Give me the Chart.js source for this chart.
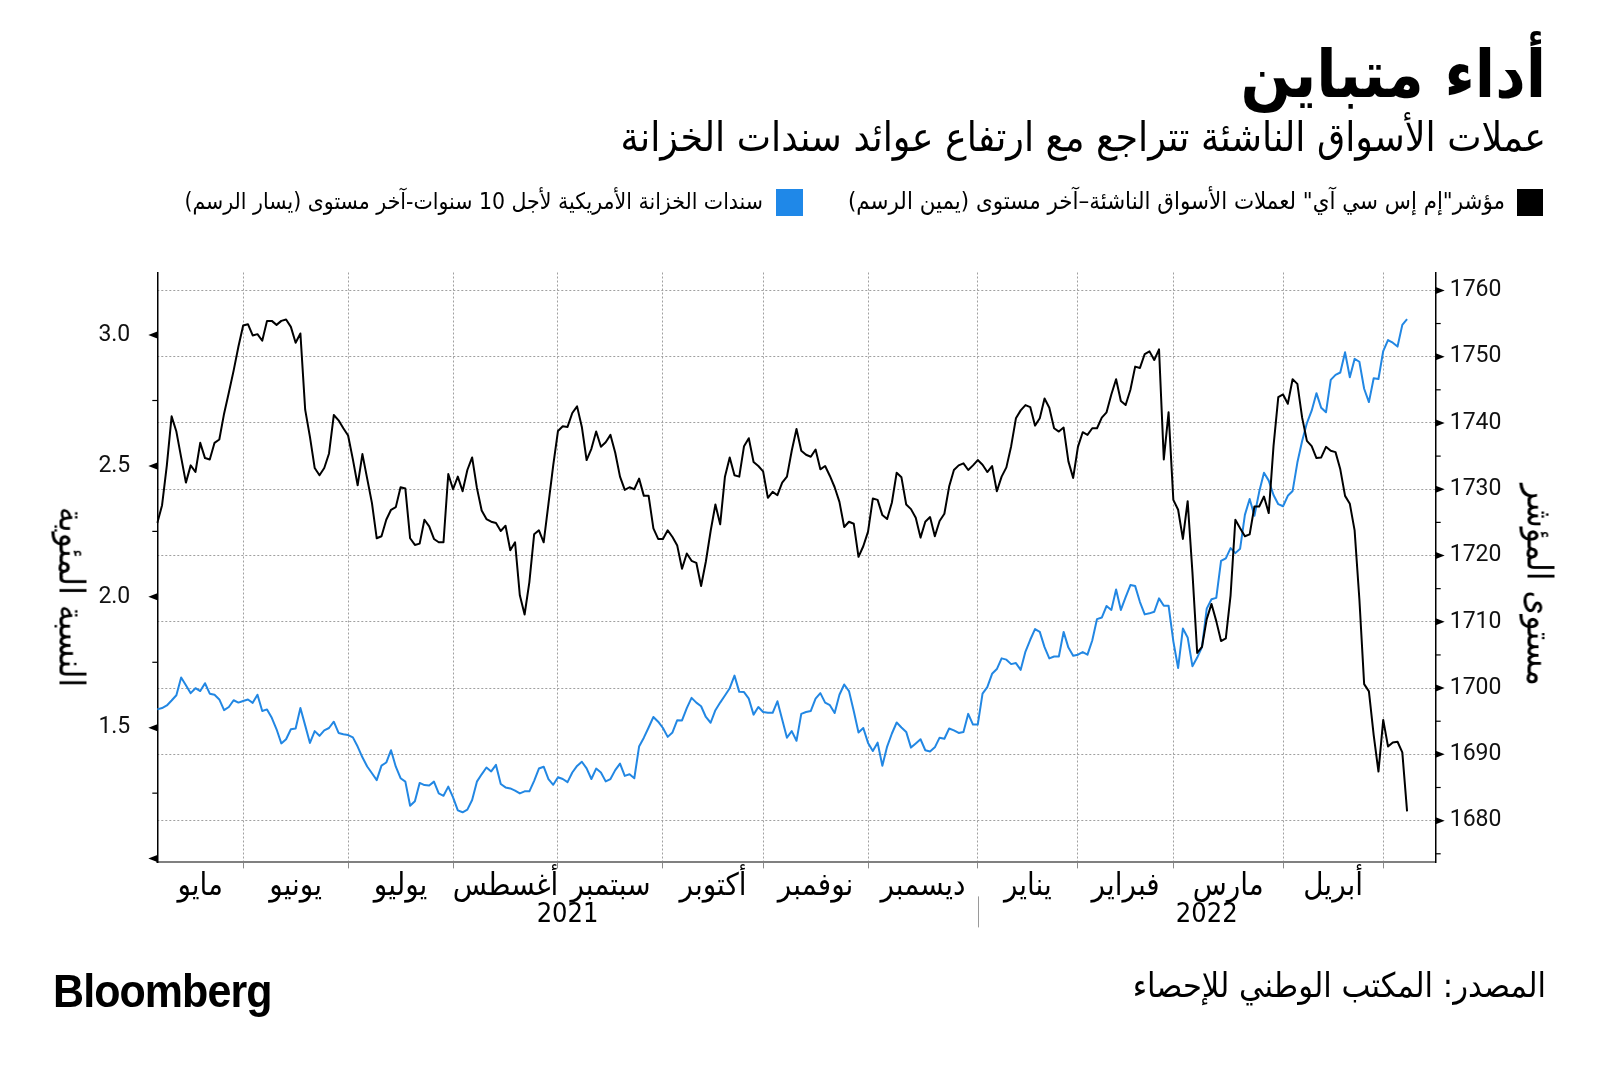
<!DOCTYPE html>
<html lang="ar"><head><meta charset="utf-8">
<script src="https://cdn.jsdelivr.net/npm/chart.js@4.4.1/dist/chart.umd.min.js"></script>
<style>
html,body{margin:0;padding:0;background:#fff;width:1600px;height:1072px;overflow:hidden;}
#wrap{position:relative;width:1600px;height:1072px;}
canvas{position:absolute;left:0;top:0;}
.t{position:absolute;white-space:nowrap;direction:rtl;line-height:1;font-family:"DejaVu Sans Condensed","DejaVu Sans",sans-serif;color:#000;}
.sq{position:absolute;}
</style></head>
<body><div id="wrap">
<canvas id="c" width="1600" height="1072"></canvas>
<div class="t" id="title" style="right:54px;top:42px;font-size:66px;font-weight:bold;">أداء متباين</div>
<div class="t" id="sub" style="right:54px;top:117px;font-size:40.5px;">عملات الأسواق الناشئة تتراجع مع ارتفاع عوائد سندات الخزانة</div>
<div class="sq" style="left:1517px;top:189px;width:26px;height:27px;background:#000;"></div>
<div class="t" id="leg1" style="right:95px;top:190px;font-size:23.8px;">مؤشر"إم إس سي آي" لعملات الأسواق الناشئة–آخر مستوى (يمين الرسم)</div>
<div class="sq" style="left:776px;top:189px;width:27px;height:27px;background:#1f88e8;"></div>
<div class="t" id="leg2" style="right:837px;top:190px;font-size:22.8px;">سندات الخزانة الأمريكية لأجل 10 سنوات-آخر مستوى (يسار الرسم)</div>
<div class="t" id="ylt" style="left:71px;top:597px;font-size:35px;transform:translate(-50%,-50%) rotate(90deg);">النسبة المئوية</div>
<div class="t" id="yrt" style="left:1539px;top:585px;font-size:35px;transform:translate(-50%,-50%) rotate(90deg);">مستوى المؤشر</div>
<div class="t" id="src" style="right:54px;top:968px;font-size:34px;">المصدر: المكتب الوطني للإحصاء</div>
<div style="position:absolute;left:53px;top:968px;font-family:'Liberation Sans',Arial,sans-serif;font-weight:bold;font-size:46px;line-height:1;letter-spacing:-1px;transform:scaleX(0.935);transform-origin:left center;color:#000;">Bloomberg</div>
</div>
<script>
// ---------- DATA ----------
// Business days from 6 May 2021 to 17 May 2022 (axis runs a few days past the last value)
const dates = [];
(function(){
  const d = new Date(Date.UTC(2021,4,6)), end = new Date(Date.UTC(2022,4,17));
  while (d <= end) { const w = d.getUTCDay(); if (w !== 0 && w !== 6) dates.push(d.toISOString().slice(0,10)); d.setUTCDate(d.getUTCDate()+1); }
})();

const monthNames = ['مايو','يونيو','يوليو','أغسطس','سبتمبر','أكتوبر','نوفمبر','ديسمبر','يناير','فبراير','مارس','أبريل'];
const yearNames = ['2021','2022'];

const legendEM = 'مؤشر"إم إس سي آي" لعملات الأسواق الناشئة–آخر مستوى (يمين الرسم)';
const legendUST = 'سندات الخزانة الأمريكية لأجل 10 سنوات-آخر مستوى (يسار الرسم)';

// MSCI EM currency index (right axis)
const emCurrency = [
1724.9,1727.6,1733.6,1741.0,1738.7,1734.8,1731.0,1733.6,1732.6,1737.0,
1734.7,1734.5,1737.0,1737.5,1741.4,1744.6,1747.9,1751.5,1754.7,1754.9,
1753.2,1753.4,1752.4,1755.4,1755.4,1754.8,1755.4,1755.6,1754.5,1752.1,
1753.5,1742.0,1737.9,1733.2,1732.1,1733.2,1735.4,1741.2,1740.4,1739.2,
1738.1,1734.5,1730.6,1735.3,1731.6,1727.9,1722.6,1722.9,1725.4,1726.9,
1727.3,1730.3,1730.1,1722.6,1721.6,1721.8,1725.4,1724.4,1722.5,1722.0,
1722.0,1732.3,1730.0,1731.9,1729.7,1732.9,1734.8,1730.2,1726.8,1725.5,
1725.1,1724.9,1723.7,1724.5,1720.8,1722.0,1714.0,1711.1,1716.0,1723.2,
1723.8,1722.0,1727.8,1733.6,1738.8,1739.5,1739.4,1741.5,1742.5,1739.4,
1734.4,1736.1,1738.7,1736.4,1737.1,1738.2,1735.5,1731.9,1729.9,1730.3,
1730.0,1731.6,1729.0,1729.0,1724.1,1722.5,1722.5,1723.8,1722.8,1721.5,
1718.0,1720.3,1719.2,1718.9,1715.4,1719.1,1723.7,1727.7,1724.7,1731.9,
1734.8,1732.1,1731.9,1736.5,1737.7,1734.1,1733.5,1732.7,1728.7,1729.6,
1729.1,1731.0,1731.9,1735.8,1739.1,1735.8,1735.2,1734.9,1736.0,1733.0,
1733.5,1732.0,1730.3,1728.1,1724.3,1725.1,1724.8,1719.8,1721.4,1723.6,
1728.6,1728.4,1726.1,1725.5,1728.0,1732.5,1731.8,1727.7,1727.0,1725.7,
1722.7,1725.1,1725.8,1722.9,1725.2,1726.3,1730.4,1732.9,1733.6,1733.9,
1732.9,1733.6,1734.4,1733.7,1732.6,1733.5,1729.7,1731.9,1733.3,1736.5,
1740.7,1741.9,1742.7,1742.4,1739.6,1740.7,1743.7,1742.3,1739.2,1738.7,
1739.3,1734.2,1731.7,1736.4,1738.6,1738.2,1739.2,1739.2,1740.8,1741.6,
1744.3,1746.6,1743.3,1742.7,1745.0,1748.5,1748.3,1750.4,1750.8,1749.5,
1751.1,1734.5,1741.6,1728.4,1726.9,1722.5,1728.2,1717.5,1705.3,1706.2,
1710.4,1712.7,1710.1,1707.1,1707.5,1714.0,1725.4,1724.1,1722.9,1723.2,
1727.4,1727.4,1728.9,1726.4,1736.5,1743.9,1744.3,1742.9,1746.6,1745.9,
1740.8,1737.3,1736.5,1734.7,1734.8,1736.4,1735.8,1735.6,1733.0,1729.0,
1727.8,1723.8,1713.4,1700.6,1699.5,1692.9,1687.4,1695.2,1691.2,1691.8,
1691.9,1690.3,1681.4
];

// US 10-year Treasury yield, % (left axis)
const ust10y = [
1.570,1.575,1.585,1.604,1.624,1.692,1.662,1.632,1.651,1.640,
1.670,1.630,1.626,1.608,1.567,1.579,1.605,1.596,1.602,1.608,
1.595,1.626,1.564,1.570,1.538,1.494,1.440,1.456,1.494,1.497,
1.575,1.509,1.442,1.487,1.469,1.490,1.499,1.523,1.480,1.475,
1.472,1.463,1.428,1.387,1.352,1.326,1.300,1.355,1.367,1.414,
1.351,1.307,1.294,1.202,1.219,1.289,1.281,1.279,1.294,1.249,
1.240,1.275,1.234,1.184,1.177,1.187,1.224,1.294,1.322,1.348,
1.333,1.358,1.285,1.272,1.268,1.260,1.249,1.257,1.257,1.297,
1.344,1.351,1.304,1.282,1.311,1.304,1.292,1.329,1.354,1.370,
1.345,1.304,1.344,1.329,1.295,1.304,1.338,1.363,1.316,1.322,
1.307,1.428,1.462,1.501,1.541,1.523,1.499,1.465,1.482,1.529,
1.528,1.575,1.614,1.596,1.582,1.541,1.519,1.567,1.596,1.623,
1.651,1.699,1.637,1.636,1.611,1.550,1.579,1.560,1.557,1.557,
1.601,1.531,1.462,1.487,1.450,1.553,1.560,1.564,1.611,1.632,
1.596,1.586,1.556,1.626,1.665,1.640,1.564,1.482,1.499,1.442,
1.411,1.443,1.355,1.428,1.478,1.520,1.501,1.484,1.424,1.440,
1.456,1.414,1.409,1.425,1.462,1.458,1.497,1.490,1.480,1.484,
1.553,1.512,1.512,1.630,1.655,1.706,1.724,1.765,1.760,1.743,
1.747,1.721,1.791,1.836,1.877,1.866,1.808,1.765,1.772,1.772,
1.866,1.806,1.775,1.779,1.789,1.779,1.833,1.915,1.921,1.965,
1.950,2.028,1.950,1.999,2.045,2.041,1.980,1.933,1.937,1.943,
1.994,1.966,1.966,1.830,1.728,1.879,1.845,1.735,1.768,1.808,
1.955,1.991,1.996,2.137,2.147,2.186,2.167,2.184,2.313,2.374,
2.310,2.401,2.474,2.444,2.389,2.354,2.346,2.386,2.404,2.513,
2.595,2.664,2.711,2.778,2.722,2.705,2.829,2.848,2.857,2.934,
2.839,2.909,2.898,2.795,2.744,2.835,2.832,2.939,2.981,2.971,
2.956,3.039,3.061
];

const leftTicks = [1.0,1.25,1.5,1.75,2.0,2.25,2.5,2.75,3.0];
const leftLabels = [1.5,2.0,2.5,3.0];
const rightTicks = [1675,1680,1685,1690,1695,1700,1705,1710,1715,1720,1725,1730,1735,1740,1745,1750,1755,1760];
const rightLabels = [1680,1690,1700,1710,1720,1730,1740,1750,1760];

// ---------- derived ----------
const monthStartIdx = [];
for (let i = 1; i < dates.length; i++) if (dates[i].slice(5,7) !== dates[i-1].slice(5,7)) monthStartIdx.push(i);
const yearStartIdx = monthStartIdx.find(i => dates[i].slice(5,7) === '01');

const BLACK = '#000000', BLUE = '#2287e3';
const ARFONT = '"DejaVu Sans Condensed","DejaVu Sans",sans-serif';

const tickMarks = {
  id: 'tickMarks',
  afterDraw(chart) {
    const ctx = chart.ctx;
    ctx.save();
    ctx.fillStyle = '#000'; ctx.strokeStyle = '#000'; ctx.lineWidth = 1.2;
    const draw = (scale, ticks, majors, side) => {
      const x0 = side < 0 ? scale.right : scale.left;
      ticks.forEach(v => {
        const y = scale.getPixelForValue(v);
        if (majors.includes(v) || (side < 0 && v === 1.0)) {
          ctx.beginPath();
          ctx.moveTo(x0, y - 3.5); ctx.lineTo(x0 + side * 9, y); ctx.lineTo(x0, y + 3.5); ctx.closePath(); ctx.fill();
        } else {
          ctx.beginPath(); ctx.moveTo(x0, y); ctx.lineTo(x0 + side * 5, y); ctx.stroke();
        }
      });
    };
    draw(chart.scales.y, leftTicks, leftLabels, -1);
    draw(chart.scales.y1, rightTicks, rightLabels, 1);
    ctx.restore();
  }
};

const axisText = {
  id: 'axisText',
  afterDraw(chart) {
    const ctx = chart.ctx, x = chart.scales.x, base = chart.chartArea.bottom;
    ctx.save();
    ctx.fillStyle = '#000';
    ctx.textAlign = 'center'; ctx.textBaseline = 'middle';
    ctx.font = '31px ' + ARFONT;
    monthNames.forEach((name, k) => {
      const a = x.getPixelForValue(k === 0 ? 0 : monthStartIdx[k-1]);
      const b = x.getPixelForValue(monthStartIdx[k]);
      ctx.fillText(name, (a + b) / 2, base + 25);
    });
    ctx.font = '27px ' + ARFONT;
    const ys = x.getPixelForValue(yearStartIdx);
    const y0 = x.getPixelForValue(0), y1 = x.getPixelForValue(dates.length - 1);
    ctx.fillText(yearNames[0], (y0 + ys) / 2, base + 53);
    ctx.fillText(yearNames[1], (ys + y1) / 2, base + 53);
    ctx.strokeStyle = '#9a9a9a'; ctx.lineWidth = 1;
    ctx.beginPath(); ctx.moveTo(Math.round(ys) + 0.5, base + 34); ctx.lineTo(Math.round(ys) + 0.5, base + 65); ctx.stroke();
    ctx.restore();
  }
};

const tickFont = { family: 'Roboto', size: 23 };

new Chart(document.getElementById('c'), {
  type: 'line',
  data: {
    labels: dates,
    datasets: [
      { label: legendEM, data: emCurrency, yAxisID: 'y1', borderColor: BLACK, borderWidth: 2, pointRadius: 0, borderJoinStyle: 'round', tension: 0 },
      { label: legendUST, data: ust10y, yAxisID: 'y', borderColor: BLUE, borderWidth: 2, pointRadius: 0, borderJoinStyle: 'round', tension: 0 }
    ]
  },
  options: {
    responsive: false, animation: false, devicePixelRatio: 1,
    layout: { padding: { top: 272.5, bottom: 149.6, left: 0, right: 0 } },
    plugins: { legend: { display: false }, tooltip: { enabled: false }, title: { display: false } },
    scales: {
      x: {
        type: 'category', offset: false,
        afterBuildTicks: s => { s.ticks = monthStartIdx.map(v => ({ value: v })); },
        afterFit: s => { s.height = 60; },
        ticks: { autoSkip: false, maxRotation: 0, callback: () => '' },
        grid: { display: true, drawOnChartArea: true, drawTicks: true, tickLength: 6, color: '#a0a0a0', lineWidth: 1, tickColor: '#8a8a8a', tickWidth: 1, tickBorderDash: [] },
        border: { display: true, color: '#808080', width: 2, dash: [2, 2] }
      },
      y: {
        position: 'left', min: 0.9855, max: 3.239,
        afterBuildTicks: s => { s.ticks = leftTicks.map(v => ({ value: v })); },
        afterFit: s => { s.width = 157.3; },
        ticks: { autoSkip: false, padding: 27, color: '#111', font: tickFont, callback: v => leftLabels.includes(v) ? v.toFixed(1) : '' },
        grid: { display: false, drawTicks: false },
        border: { display: true, color: '#000', width: 1.5 }
      },
      y1: {
        position: 'right', min: 1673.7, max: 1762.7,
        afterBuildTicks: s => { s.ticks = rightTicks.map(v => ({ value: v })); },
        afterFit: s => { s.width = 1600 - 1435.7; },
        ticks: { autoSkip: false, padding: 14, color: '#111', font: tickFont, callback: v => rightLabels.includes(v) ? String(v) : '' },
        grid: { display: true, drawOnChartArea: true, drawTicks: false, lineWidth: 1,
                color: c => (c.tick && rightLabels.includes(c.tick.value)) ? '#a0a0a0' : 'rgba(0,0,0,0)' },
        border: { display: true, color: '#000', width: 1.5, dash: [2, 2] }
      }
    }
  },
  plugins: [tickMarks, axisText]
});
</script>
</body></html>
